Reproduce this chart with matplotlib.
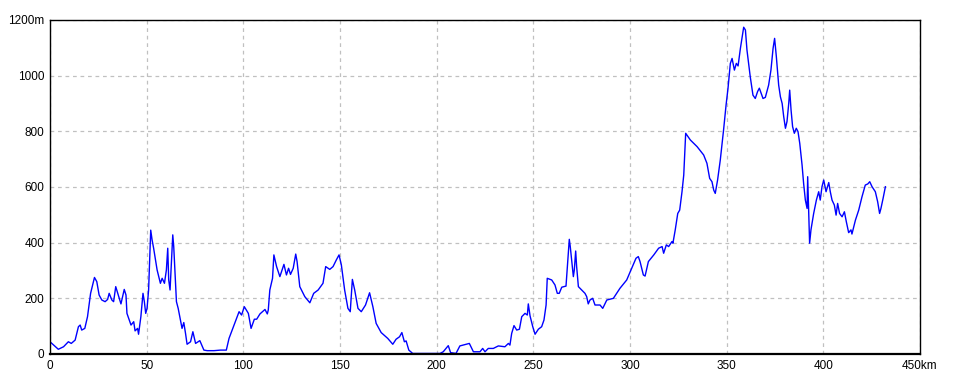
import matplotlib
matplotlib.use('Agg')
import matplotlib.pyplot as plt
from matplotlib.ticker import FuncFormatter

# Elevation profile (km along route, elevation in m)
km = [0, 4.3, 7, 9.5, 11, 13, 14.7, 15.6, 16.4, 18, 19.4, 21, 23, 24.2, 25.4, 26.8,
      28.5, 29.8, 30.6, 32, 32.9, 34, 35.8, 36.7, 38.4, 39.3, 39.8, 41.9, 43.3, 44,
      45.3, 45.8, 47, 48.1, 48.8, 49.5, 50.2, 51, 51.6, 52.1, 52.8, 53.6, 55.4, 57.1,
      58, 59.2, 60.2, 60.9, 61.4, 62.1, 63, 63.5, 64, 64.9, 65.4, 66.3, 67.5, 68.3,
      69.2, 70.1, 70.9, 72.7, 73.9, 75.3, 77.5, 79.6, 81.3, 84.8, 88.2, 91.2, 92.6,
      95.2, 97.8, 99.1, 100.5, 102.6, 104, 105.7, 106.9, 108.6, 111.2, 112.4, 112.9,
      113.7, 115.1, 115.8, 117.2, 118.9, 121, 122.3, 123.4, 124.4, 125.8, 127.1,
      127.8, 129.2, 131.8, 134.4, 136.4, 138.7, 141.2, 142.6, 144.7, 146.4, 148.1,
      149.5, 150.7, 152.4, 154.1, 155.3, 156.4, 157.6, 159.3, 161, 163.2, 165.3, 167,
      168.7, 171.3, 174.7, 177.3, 179, 180.8, 182, 183.3, 184.2, 185.6, 187.6, 197.9,
      201.7, 203.4, 206, 207.2, 210, 212, 216.9, 219, 222.4, 223.8, 225, 226.7, 229.3,
      231.9, 235.3, 237.1, 237.9, 238.8, 240, 241.4, 242.8, 244, 245.7, 246.9, 247.4,
      248.3, 249.7, 250.9, 252.6, 254.3, 255.5, 256.6, 257.2, 259.5, 261.2, 262.4,
      263.4, 264.7, 266.9, 267.8, 268.6, 269.1, 269.8, 270.7, 271.2, 271.9, 272.4,
      273.3, 275, 276.7, 277.6, 278.4, 279.3, 280.7, 281.9, 284.5, 285.9, 288, 291.4,
      294.8, 298.3, 300.9, 303.1, 304.3, 305.2, 306.9, 307.8, 309.5, 312.3, 314.8,
      316.6, 317.4, 318.8, 320, 321.7, 322.2, 323.4, 324.7, 325.7, 326.9, 327.8, 328.3,
      328.8, 331.2, 334.7, 338.1, 339.8, 341.2, 342.4, 343.3, 344.1, 345.3, 346.7,
      348.4, 349.7, 350.7, 351.9, 352.8, 354, 355, 355.9, 357.1, 357.9, 358.8, 359.7,
      360.5, 362.2, 363.6, 364.8, 366, 366.9, 367.8, 368.8, 370, 371.7, 372.9, 374,
      374.8, 375.7, 376.9, 377.8, 378.7, 379.5, 380.4, 381.2, 382.1, 382.6, 383.3,
      384.1, 385, 386, 386.9, 387.8, 389, 389.8, 390.7, 391.6, 391.9, 392.4, 392.9,
      393.6, 395, 396.4, 397.6, 398.4, 399.3, 400.2, 401.4, 402.8, 403.6, 404.5,
      405.7, 406.6, 407.4, 408.4, 409.7, 410.9, 411.9, 413.1, 414.3, 414.8, 416.6,
      418.3, 420, 421.7, 423, 424, 425.2, 426.9, 428.1, 429.1, 429.8, 430.9, 432.1]

elev = [44, 17, 26, 44, 38, 50, 98, 104, 86, 92, 134, 218, 275, 260, 212, 194,
        188, 196, 218, 194, 188, 242, 200, 180, 232, 212, 146, 104, 116, 83,
        92, 71, 134, 218, 188, 146, 164, 230, 344, 445, 410, 380, 302, 254,
        272, 254, 302, 380, 266, 230, 362, 428, 386, 254, 188, 164, 122, 92,
        113, 74, 35, 44, 80, 38, 48, 14, 12, 12, 14, 14, 56,
        104, 152, 140, 170, 146, 92, 125, 125, 144, 160, 144, 158,
        230, 272, 356, 314, 278, 322, 284, 308, 286, 308, 359,
        332, 242, 206, 184, 218, 230, 254, 314, 304, 314, 338,
        356, 320, 230, 164, 152, 268, 230, 164, 152, 176, 220, 170,
        110, 77, 56, 35, 53, 62, 77, 44, 47, 14, 2, 2,
        2, 8, 30, 5, 2, 29, 38, 8, 8, 20, 8, 20, 20,
        29, 26, 38, 32, 74, 102, 86, 89, 134, 146, 140, 180,
        137, 98, 71, 89, 98, 122, 176, 272, 266, 248, 218,
        218, 240, 244, 332, 412, 386, 338, 278, 302, 370, 314,
        242, 230, 218, 206, 180, 194, 200, 176, 176, 164, 194, 200,
        236, 266, 308, 344, 350, 332, 284, 280, 332, 356, 380,
        386, 362, 392, 386, 404, 398, 446, 505, 517, 583, 643, 721,
        793, 769, 745, 715, 685, 631, 619, 589, 577, 625, 697,
        805, 895, 955, 1044, 1062, 1020, 1044, 1035, 1098, 1134, 1174, 1164,
        1092, 996, 930, 918, 943, 955, 937, 918, 922, 966, 1020, 1098,
        1134, 1068, 966, 924, 900, 853, 811, 835, 900, 948, 877,
        817, 793, 811, 799, 757, 679, 613, 553, 523, 637, 517, 398,
        446, 505, 553, 583, 553, 601, 625, 583, 616, 583, 553,
        535, 499, 541, 505, 493, 511, 475, 436, 446, 431, 481,
        517, 565, 607, 611, 619, 601, 583, 547, 505, 523, 559, 601]

x_ticks = [0, 50, 100, 150, 200, 250, 300, 350, 400, 450]
y_ticks = [0, 200, 400, 600, 800, 1000, 1200]

plt.rcParams['font.family'] = ['Liberation Sans', 'DejaVu Sans']

fig = plt.figure(figsize=(9.6, 3.84), dpi=100)
ax = fig.add_axes([50 / 960, 30 / 384, 870 / 960, 334 / 384])

ax.plot(km, elev, color='#0000ff', linewidth=1.0)

ax.set_xlim(0, 450)
ax.set_ylim(0, 1200)
ax.set_xticks(x_ticks)
ax.set_yticks(y_ticks)
ax.xaxis.set_major_formatter(FuncFormatter(lambda v, p: f'{v:.0f}km' if v == 450 else f'{v:.0f}'))
ax.yaxis.set_major_formatter(FuncFormatter(lambda v, p: f'{v:.0f}m' if v == 1200 else f'{v:.0f}'))
ax.tick_params(length=0, pad=4, labelsize=8.5)
ax.grid(True, color='#c0c0c0', linestyle=(0, (3, 3)), linewidth=0.9)

for side in ax.spines.values():
    side.set_color('black')
    side.set_linewidth(1.0)
ax.spines['bottom'].set_linewidth(1.6)

fig.savefig('out.png', dpi=100)
